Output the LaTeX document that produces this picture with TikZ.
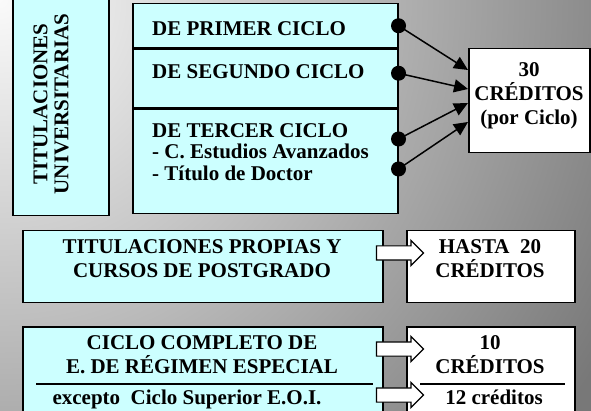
\documentclass[tikz,border=0pt]{standalone}
\usepackage{fontspec}
\setmainfont{Liberation Serif}
\usetikzlibrary{positioning,calc,arrows.meta,shapes.arrows}
\definecolor{celeste}{HTML}{CCFFFF}
\tikzset{%
  cnode/.style={%
    line width=1.5pt,
    draw=black,
    fill=celeste,
    rectangle,
    inner sep=0pt,
    anchor=north west%
  },
  wnode/.style={%
    cnode,
    fill=white
  },
  tnode/.style={%
    inner sep=0pt,
    align=center,
    font=\bfseries\fontsize{21}{24}\selectfont
  },
  dnode/.style={%
    circle,
    fill=black,
    minimum size=15pt,
    inner sep=0pt
  },
  anode/.style={%
    single arrow,
    draw=black,
    fill=white,
    line width=1.2pt,
    minimum height=47pt,
    inner xsep=0pt,
    inner ysep=6.5pt,
    single arrow head extend=5.5pt
  },
  conn/.style={%
    line width=1.5pt,
    -{Triangle[length=14pt,width=13pt]}
  }
}

\begin{document}
\begin{tikzpicture}[x=1pt,y=-1pt]
      \useasboundingbox (0,0) rectangle (591,411);
      \clip (0,0) rectangle (591,411);
      \fill[black!53] (0,0) rectangle (591,411);
      \shade[inner color=black!2, outer color=black!53] (0,0) circle (700);

      % titulaciones universitarias
      \node[cnode, minimum width=96pt, minimum height=225pt] (univ) at (12,-10) {};
      \node[tnode, rotate=90, font=\bfseries\fontsize{21}{21}\selectfont] (tuniv) at (51,104) {TITULACIONES\\UNIVERSITARIAS};

      \node[cnode, minimum width=265pt, minimum height=44pt]  (prim) at (132,3) {};
      \node[cnode, minimum width=265pt, minimum height=59pt]  (segu) at (prim.south west) {};
      \node[cnode, minimum width=265pt, minimum height=104pt] (terc) at (segu.south west) {};

      \node[tnode, anchor=base west] (tprim) at (152,36) {DE PRIMER CICLO};
      \node[tnode, anchor=base west] (tsegu) at (152,79) {DE SEGUNDO CICLO};
      \node[tnode, anchor=north west, align=left, font=\bfseries\fontsize{21}{21.5}\selectfont]
        (tterc) at (152,123) {DE TERCER CICLO\\- C. Estudios Avanzados\\- Título de Doctor};

      \node[wnode, minimum width=121pt, minimum height=104pt] (cred) at (468,48) {};
      \node[tnode, anchor=north] (tcred) at (529,62) {30\\CRÉDITOS\\(por Ciclo)};

      \node[dnode] (d1) at (prim.east) {};
      \node[dnode] (d2) at ($(segu.east)+(0,-5.5)$) {};
      \node[dnode] (d3) at ($(terc.north east)+(0,30)$) {};
      \node[dnode] (d4) at ($(terc.north east)+(0,60)$) {};

      \coordinate (e1) at ($(cred.north west)+(0,22)$);
      \coordinate (e2) at ($(cred.north west)+(0,41)$);
      \coordinate (e3) at ($(cred.north west)+(0,55)$);
      \coordinate (e4) at ($(cred.north west)+(0,74)$);

      \draw[conn] (d1.center) -- (e1);
      \draw[conn] (d2.center) -- (e2);
      \draw[conn] (d3.center) -- (e3);
      \draw[conn] (d4.center) -- (e4);

      % titulaciones propias
      \node[cnode, minimum width=360pt, minimum height=72pt] (propias) at (22,230) {};
      \node[tnode, anchor=north] (tpropias) at (202,239) {TITULACIONES PROPIAS Y\\CURSOS DE POSTGRADO};
      \node[wnode, minimum width=168pt, minimum height=72pt] (hasta) at (406,230) {};
      \node[tnode, anchor=north] (thasta) at (490,239) {HASTA\ \ 20\\CRÉDITOS};

      % regimen especial
      \node[cnode, minimum width=360pt, minimum height=110pt] (ciclo) at (22,326) {};
      \node[tnode, anchor=north] (tciclo) at (202,335) {CICLO COMPLETO DE\\E. DE RÉGIMEN ESPECIAL};
      \node[tnode, anchor=base] (texc) at (187,404) {excepto\ \ Ciclo Superior E.O.I.};
      \node[wnode, minimum width=168pt, minimum height=110pt] (diez) at (406,326) {};
      \node[tnode, anchor=north] (tdiez) at (490,335) {10\\CRÉDITOS};
      \node[tnode, anchor=base] (tdoce) at (494,404) {12 créditos};

      \draw[line width=1.5pt] (ciclo.north west) ++(14,58) coordinate (l1) -- ++(337,0) coordinate (l2);
      \draw[line width=1.5pt] (diez.north west) ++(14,58) coordinate (l3) -- ++(145,0) coordinate (l4);

      \node[anode] (a1) at (396.5,253) {};
      \node[anode] (a2) at (396.5,349) {};
      \node[anode] (a3) at (396.5,395) {};
    \end{tikzpicture}
\end{document}
